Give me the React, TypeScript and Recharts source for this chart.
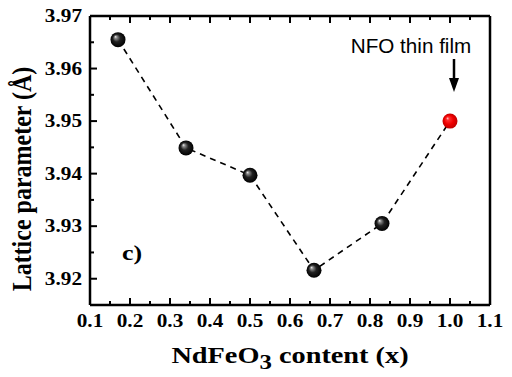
import React from 'react';
import { ComposedChart, Line, XAxis, YAxis } from 'recharts';

const contentX = [0.17, 0.34, 0.5, 0.66, 0.83, 1.0];
const latticeA = [3.9655, 3.9449, 3.9397, 3.9216, 3.9305, 3.95];
const xTicks = [0.1, 0.15, 0.2, 0.25, 0.3, 0.35, 0.4, 0.45, 0.5, 0.55, 0.6, 0.65, 0.7, 0.75, 0.8, 0.85, 0.9, 0.95, 1.0, 1.05, 1.1];
const yTicks = [3.92, 3.925, 3.93, 3.935, 3.94, 3.945, 3.95, 3.955, 3.96, 3.965, 3.97];

const data = contentX.map((x, i) => ({ x, y: latticeA[i] }));

const isMajor = (v: number, step: number) => Math.abs(Math.round(v / step) * step - v) < 1e-6;
const serif = '"Liberation Serif", "Times New Roman", serif';
// the source picture is a bit stretched sideways, so text gets a horizontal scale
const SX = 1.18;

const BottomTick = ({ x, y, payload }: any) => {
  const major = isMajor(payload.value, 0.1);
  return (
    <g>
      <line x1={x} x2={x} y1={y} y2={y - (major ? 7 : 4)} stroke="#000" strokeWidth={2} />
      {major && (
        <text
          transform={`translate(${x},${y + 22}) scale(${SX},1)`}
          textAnchor="middle"
          fontFamily={serif}
          fontWeight="bold"
          fontSize={18}
          fill="#000"
        >
          {payload.value.toFixed(1)}
        </text>
      )}
    </g>
  );
};

const TopTick = ({ x, y, payload }: any) => {
  const major = isMajor(payload.value, 0.1);
  return <line x1={x} x2={x} y1={y} y2={y + (major ? 7 : 4)} stroke="#000" strokeWidth={2} />;
};

const LeftTick = ({ x, y, payload }: any) => {
  const major = isMajor(payload.value, 0.01);
  return (
    <g>
      <line x1={x} x2={x + (major ? 7 : 4)} y1={y} y2={y} stroke="#000" strokeWidth={2} />
      {major && (
        <text
          transform={`translate(${x - 8},${y + 6}) scale(${SX},1)`}
          textAnchor="end"
          fontFamily={serif}
          fontWeight="bold"
          fontSize={18}
          fill="#000"
        >
          {payload.value.toFixed(2)}
        </text>
      )}
    </g>
  );
};

const RightTick = ({ x, y, payload }: any) => {
  const major = isMajor(payload.value, 0.01);
  return <line x1={x} x2={x - (major ? 7 : 4)} y1={y} y2={y} stroke="#000" strokeWidth={2} />;
};

const Ball = ({ cx, cy, index }: any) => {
  const id = index === contentX.length - 1 ? 'ballRed' : 'ballBlack';
  return <circle key={index} cx={cx} cy={cy} r={7.5} fill={`url(#${id})`} />;
};

export default function App() {
  return (
    <div style={{ position: 'absolute', left: 0, top: 0, background: '#fff' }}>
      <ComposedChart width={512} height={377} data={data} margin={{ top: 0, right: 0, bottom: 0, left: 0 }}>
        <defs>
          <radialGradient id="ballBlack" cx="50%" cy="50%" r="50%" fx="32%" fy="30%">
            <stop offset="0%" stopColor="#f2f2f2" />
            <stop offset="18%" stopColor="#8a8a8a" />
            <stop offset="50%" stopColor="#222" />
            <stop offset="100%" stopColor="#000" />
          </radialGradient>
          <radialGradient id="ballRed" cx="50%" cy="50%" r="50%" fx="32%" fy="30%">
            <stop offset="0%" stopColor="#ffd0d0" />
            <stop offset="20%" stopColor="#ff3030" />
            <stop offset="60%" stopColor="#f00000" />
            <stop offset="100%" stopColor="#c00000" />
          </radialGradient>
        </defs>
        <XAxis
          xAxisId="bottom"
          dataKey="x"
          type="number"
          domain={[0.1, 1.1]}
          ticks={xTicks}
          orientation="bottom"
          height={72}
          tickSize={0}
          tickMargin={0}
          tickLine={false}
          axisLine={{ stroke: '#000', strokeWidth: 2.5 }}
          tick={<BottomTick />}
          interval={0}
        />
        <XAxis
          xAxisId="top"
          dataKey="x"
          type="number"
          domain={[0.1, 1.1]}
          ticks={xTicks}
          orientation="top"
          height={16}
          tickSize={0}
          tickMargin={0}
          tickLine={false}
          axisLine={{ stroke: '#000', strokeWidth: 2.5 }}
          tick={<TopTick />}
          interval={0}
        />
        <YAxis
          yAxisId="left"
          type="number"
          domain={[3.915, 3.97]}
          ticks={yTicks}
          orientation="left"
          width={90}
          tickSize={0}
          tickMargin={0}
          tickLine={false}
          axisLine={{ stroke: '#000', strokeWidth: 2.5 }}
          tick={<LeftTick />}
          interval={0}
        />
        <YAxis
          yAxisId="right"
          type="number"
          domain={[3.915, 3.97]}
          ticks={yTicks}
          orientation="right"
          width={22}
          tickSize={0}
          tickMargin={0}
          tickLine={false}
          axisLine={{ stroke: '#000', strokeWidth: 2.5 }}
          tick={<RightTick />}
          interval={0}
        />
        <Line
          xAxisId="bottom"
          yAxisId="left"
          dataKey="y"
          type="linear"
          stroke="#000"
          strokeWidth={1.6}
          strokeDasharray="6 5"
          dot={<Ball />}
          activeDot={false}
          isAnimationActive={false}
        />
        <text
          transform={`translate(290,363) scale(${SX},1)`}
          textAnchor="middle"
          fontFamily={serif}
          fontWeight="bold"
          fontSize={24}
          fill="#000"
        >
          NdFeO<tspan dy={6} fontSize={21}>3</tspan>
          <tspan dy={-6}> content (x)</tspan>
        </text>
        <text
          transform="translate(31,179) rotate(-90) scale(1,1.1)"
          textAnchor="middle"
          fontFamily={serif}
          fontWeight="bold"
          fontSize={24}
          fill="#000"
        >
          Lattice parameter (Å)
        </text>
        <text
          transform={`translate(132,260) scale(${SX},1)`}
          textAnchor="middle"
          fontFamily={serif}
          fontWeight="bold"
          fontSize={22}
          fill="#000"
        >
          c)
        </text>
        <text
          transform="translate(411,53) scale(1.06,1)"
          textAnchor="middle"
          fontFamily='"Liberation Sans", Arial, sans-serif'
          fontSize={19.5}
          fill="#000"
        >
          NFO thin film
        </text>
        <line x1={454} x2={454} y1={59} y2={80} stroke="#000" strokeWidth={2.5} />
        <polygon points="449,78 459,78 454,92" fill="#000" />
      </ComposedChart>
    </div>
  );
}
